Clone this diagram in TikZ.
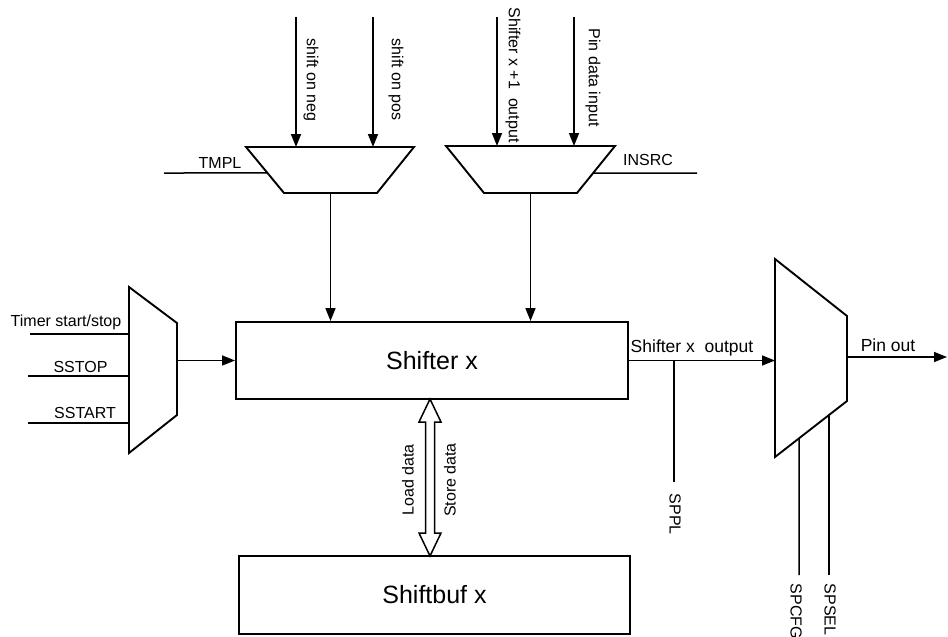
\documentclass[tikz,border=0pt]{standalone}
\usepackage{fontspec}
\setmainfont{Liberation Sans}
\usetikzlibrary{arrows.meta, calc}

\begin{document}
\begin{tikzpicture}[>={Triangle[length=13pt, width=10pt]}, x=1pt, y=-1pt, line width=1.5pt,
        blk/.style={draw, line width=1.9pt, inner sep=0pt, font=\fontsize{25}{30}\selectfont},
        lbl/.style={inner sep=0pt, font=\fontsize{16}{19}\selectfont},
        biglbl/.style={inner sep=0pt, font=\fontsize{17.5}{21}\selectfont},
        mux/.style={draw, line width=1.9pt, line join=miter}]
        \useasboundingbox (0,0) rectangle (948,637);

        % Khối chính
        \node[blk, minimum width=392pt, minimum height=77pt] (shifter) at (432,360.5) {Shifter x};
        \node[blk, minimum width=391pt, minimum height=78pt] (shiftbuf) at (434.5,595) {Shiftbuf x};

        % Mux TMPL
        \coordinate (m1nw) at (246,147);
        \coordinate (m1ne) at (414,147);
        \coordinate (m1se) at (377,193);
        \coordinate (m1sw) at (284,193);
        \draw[mux] (m1nw) -- (m1ne) -- (m1se) -- (m1sw) -- cycle;
        \coordinate (neg) at (296,17);
        \coordinate (pos) at (373,17);
        \coordinate (tmpl) at (164,173);
        \draw[->] (neg) -- (neg |- m1nw);
        \draw[->] (pos) -- (pos |- m1nw);
        \draw (tmpl) -- ($(m1nw)!0.565!(m1sw)$);
        \node[lbl, rotate=-90, anchor=west] (negtxt) at (311,38) {shift on neg};
        \node[lbl, rotate=-90, anchor=west] (postxt) at (396,38) {shift on pos};
        \node[lbl, anchor=base] (tmpltxt) at (220,168) {TMPL};
        \draw[->] ($(m1sw)!0.5!(m1se)$) coordinate (m1out) -- (m1out |- shifter.north);

        % Mux INSRC
        \coordinate (m2nw) at (446,146);
        \coordinate (m2ne) at (615,146);
        \coordinate (m2se) at (577,193);
        \coordinate (m2sw) at (484,193);
        \draw[mux] (m2nw) -- (m2ne) -- (m2se) -- (m2sw) -- cycle;
        \coordinate (nxt) at (497,17);
        \coordinate (pin) at (574,17);
        \coordinate (insrc) at (697,173);
        \draw[->] (nxt) -- (nxt |- m2nw);
        \draw[->] (pin) -- (pin |- m2nw);
        \draw (insrc) -- ($(m2ne)!0.575!(m2se)$);
        \node[lbl, rotate=-90, anchor=west] (nxttxt) at (513,7) {Shifter x +1\ \ output};
        \node[lbl, rotate=-90, anchor=west] (pintxt) at (593,28) {Pin data input};
        \node[lbl, anchor=base] (insrctxt) at (648,165) {INSRC};
        \draw[->] ($(m2sw)!0.5!(m2se)$) coordinate (m2out) -- (m2out |- shifter.north);

        % Mux trigger
        \coordinate (m3nw) at (129,287);
        \coordinate (m3ne) at (177,323);
        \coordinate (m3se) at (177,415);
        \coordinate (m3sw) at (129,453);
        \draw[mux] (m3nw) -- (m3ne) -- (m3se) -- (m3sw) -- cycle;
        \coordinate (tmr) at (30,334);
        \coordinate (sstop) at (28,376);
        \coordinate (sstart) at (28,423);
        \draw (tmr) -- (tmr -| m3nw);
        \draw (sstop) -- (sstop -| m3nw);
        \draw (sstart) -- (sstart -| m3nw);
        \node[lbl, anchor=base] (tmrtxt) at (66,326) {Timer start/stop};
        \node[lbl, anchor=base] (sstoptxt) at (80.5,372) {SSTOP};
        \node[lbl, anchor=base] (sstarttxt) at (85,418) {SSTART};
        \draw[->] (m3ne |- shifter.west) -- (shifter.west);

        % Mux pin out
        \coordinate (m4nw) at (775,259);
        \coordinate (m4ne) at (847,316);
        \coordinate (m4se) at (847,401);
        \coordinate (m4sw) at (775,457);
        \draw[mux] (m4nw) -- (m4ne) -- (m4se) -- (m4sw) -- cycle;
        \draw[->] (shifter.east) -- (shifter.east -| m4nw);
        \node[biglbl, anchor=base] (outtxt) at (692,352) {Shifter x\ \ output};
        \coordinate (sppl) at (674,482);
        \draw (sppl) -- (sppl |- shifter.east);
        \node[lbl, rotate=-90, anchor=west] (sppltxt) at (675,493) {SPPL};
        \coordinate (m4out) at (847,357);
        \coordinate (pinout) at (947,357);
        \draw[->] (m4out) -- (pinout);
        \node[biglbl, anchor=base] (pinouttxt) at (888,351) {Pin out};
        \coordinate (spcfg) at (799,575);
        \coordinate (spsel) at (829,575);
        \draw (spcfg) -- ($(m4sw)!1/3!(m4se)$);
        \draw (spsel) -- ($(m4sw)!0.75!(m4se)$);
        \node[lbl, rotate=-90, anchor=west] (spcfgtxt) at (796,583) {SPCFG};
        \node[lbl, rotate=-90, anchor=west] (spseltxt) at (830,583) {SPSEL};

        % Load / store
        \coordinate (dtop) at (430,399);
        \coordinate (dbot) at (430,556);
        \draw[fill=white] (dtop) -- ++(11,23) -- ++(-6.5,0) -- ($(dbot)+(4.5,-23)$) -- ++(6.5,0)
            -- (dbot) -- ++(-11,-23) -- ++(6.5,0) -- ($(dtop)+(-4.5,23)$) -- ++(-6.5,0) -- cycle;
        \node[lbl, rotate=90] (loadtxt) at (408,480) {Load data};
        \node[lbl, rotate=90] (storetxt) at (450,480) {Store data};
    \end{tikzpicture}
\end{document}
